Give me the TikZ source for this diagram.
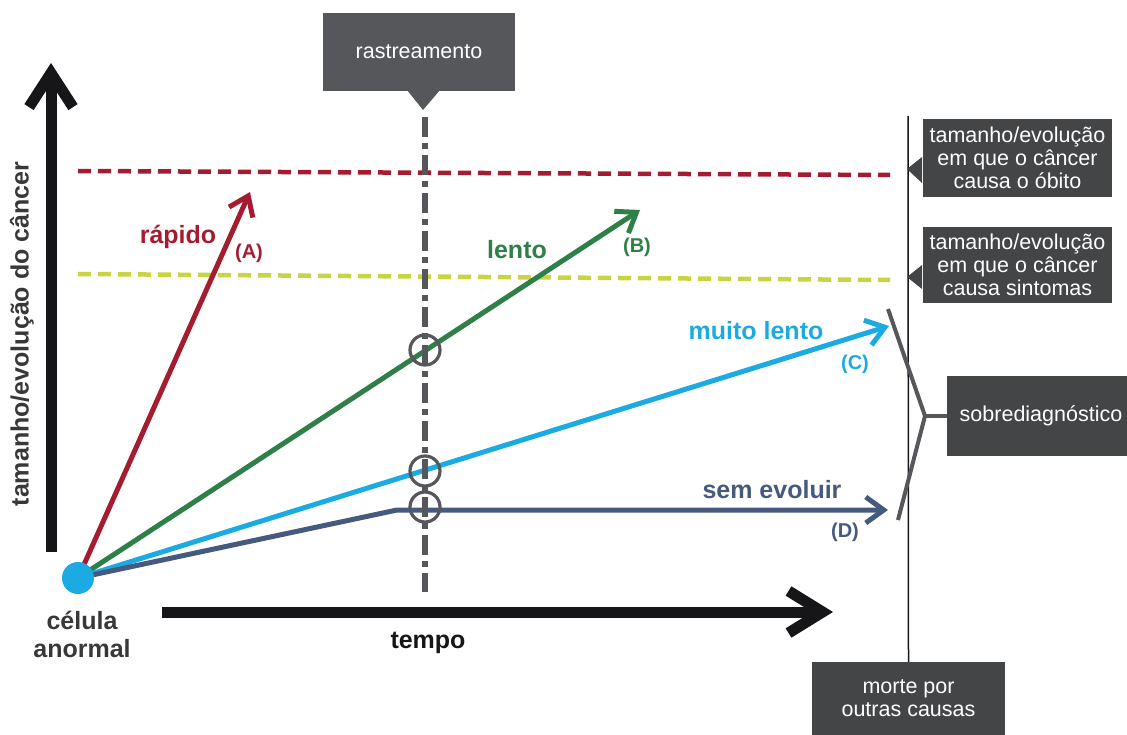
\documentclass[tikz,border=0pt]{standalone}
\usepackage{fontspec}
\setmainfont{Liberation Sans}
\usetikzlibrary{arrows.meta}
\definecolor{axisblack}{HTML}{161619}
\definecolor{rapidored}{HTML}{A51C30}
\definecolor{lentogreen}{HTML}{2F7F48}
\definecolor{muitoblue}{HTML}{1CAAE2}
\definecolor{semslate}{HTML}{455A7E}
\definecolor{sintomasyellow}{HTML}{C8D440}
\definecolor{boxgray}{HTML}{444547}
\definecolor{screengray}{HTML}{55575B}
\definecolor{textgray}{HTML}{38383A}
\begin{document}
\begin{tikzpicture}[x=1pt,y=-1pt,
    axis/.style={line width=11pt,color=axisblack},
    course/.style={line width=5pt,-{Straight Barb[length=18pt,width=26pt]}},
    limit/.style={line width=4.5pt,dash pattern=on 13pt off 7pt},
    biglabel/.style={font=\fontsize{25}{29}\selectfont\bfseries},
    tag/.style={font=\fontsize{20}{24}\selectfont\bfseries},
    infobox/.style={fill=boxgray,text=white,font=\fontsize{21.5}{23}\selectfont,align=center,inner sep=0pt},
    hit/.style={circle,draw=screengray,line width=3.2pt,minimum size=30pt,inner sep=0pt}]
  \useasboundingbox (0,0) rectangle (1127,735);

  % axes
  \coordinate (ybottom) at (51,552);
  \coordinate (ytop) at (51,63);
  \coordinate (xleft) at (162,612);
  \coordinate (xright) at (833,612);
  \draw[axis,-{Straight Barb[length=34pt,width=44pt]}] (ybottom) -- (ytop);
  \draw[axis,-{Straight Barb[length=34pt,width=42pt]}] (xleft) -- (xright);
  \node[biglabel,text=textgray,rotate=90] (ylabel) at (22,334) {tamanho/evolução do câncer};
  \node[biglabel,text=axisblack] (tempo) at (428,643) {tempo};

  % limits
  \coordinate (obitoleft) at (78,171);
  \coordinate (obitoright) at (890,175);
  \coordinate (sintomasleft) at (78,274);
  \coordinate (sintomasright) at (890,280);
  \draw[limit,rapidored] (obitoleft) -- (obitoright);
  \draw[limit,sintomasyellow] (sintomasleft) -- (sintomasright);

  % courses
  \coordinate (origin) at (78,578);
  \coordinate (endA) at (250,192);
  \coordinate (endB) at (640,210);
  \coordinate (endC) at (889,326);
  \coordinate (bendD) at (397,510);
  \coordinate (endD) at (888,510);
  \draw[course,rapidored] (origin) -- (endA);
  \draw[course,lentogreen] (origin) -- (endB);
  \draw[course,muitoblue] (origin) -- (endC);
  \draw[course,semslate] (origin) -- (bendD) -- (endD);
  \node[circle,fill=muitoblue,minimum size=32pt,inner sep=0pt] (cell) at (origin) {};
  \node[biglabel,text=textgray,align=center,font=\fontsize{25}{28}\selectfont\bfseries] (cellname) at (82,634) {célula\\anormal};

  \node[biglabel,text=rapidored] (rapido) at (178,237) {rápido};
  \node[tag,text=rapidored] (tagA) at (249,253) {(A)};
  \node[biglabel,text=lentogreen] (lento) at (517,250) {lento};
  \node[tag,text=lentogreen] (tagB) at (637,247) {(B)};
  \node[biglabel,text=muitoblue] (muitolento) at (756,331) {muito lento};
  \node[tag,text=muitoblue] (tagC) at (855,364) {(C)};
  \node[biglabel,text=semslate] (semevoluir) at (772,490) {sem evoluir};
  \node[tag,text=semslate] (tagD) at (845,532) {(D)};

  % screening
  \node[infobox,fill=screengray,minimum width=192pt,minimum height=78pt] (rastreamento) at (419,52) {rastreamento};
  \coordinate (rastreamentotip) at (423,110);
  \fill[screengray] (407,90) -- (rastreamentotip) -- (440,90) -- cycle;
  \coordinate (screentop) at (425,117);
  \coordinate (screenbottom) at (425,592);
  \draw[screengray,line width=6pt,dash pattern=on 20pt off 6pt on 6pt off 6pt] (screentop) -- (screenbottom);
  \node[hit] (hitB) at (425,350) {};
  \node[hit] (hitC) at (425,471) {};
  \node[hit] (hitD) at (425,507) {};

  % right side
  \node[infobox,minimum width=193pt,minimum height=73pt] (morte) at (908.5,698.5) {morte por\\outras causas};
  \coordinate (deathtop) at (908,116);
  \draw[axisblack,line width=1.5pt] (deathtop) -- (morte.north);
  \node[infobox,minimum width=189pt,minimum height=78pt] (obito) at (1017.5,158) {tamanho/evolução\\em que o câncer\\causa o óbito};
  \coordinate (obitotip) at (907,169);
  \fill[boxgray] (922,157) -- (obitotip) -- (922,183) -- cycle;
  \node[infobox,minimum width=189pt,minimum height=76pt] (sintomas) at (1017.5,265) {tamanho/evolução\\em que o câncer\\causa sintomas};
  \coordinate (sintomastip) at (907,277);
  \fill[boxgray] (922,265) -- (sintomastip) -- (922,289) -- cycle;

  \node[infobox,minimum width=188pt,minimum height=80pt] (sobre) at (1041,416) {sobrediagnóstico};
  \coordinate (bracktop) at (888,309);
  \coordinate (brackmid) at (925,416);
  \coordinate (brackbottom) at (898,520);
  \draw[screengray,line width=4pt] (bracktop) -- (brackmid) -- (brackbottom);
  \draw[screengray,line width=4pt] (brackmid) -- (sobre.west);
\end{tikzpicture}
\end{document}
